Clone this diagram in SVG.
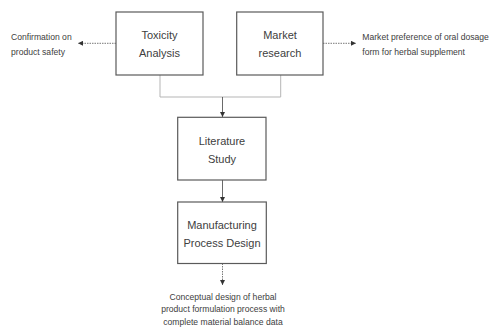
<svg xmlns="http://www.w3.org/2000/svg" width="492" height="327" viewBox="0 0 492 327">
<defs>
<marker id="ah" viewBox="0 0 6 6" refX="6" refY="3" markerWidth="5" markerHeight="5" orient="auto" markerUnits="userSpaceOnUse">
<path d="M0,0 L6,3 L0,6 z" fill="#333"/>
</marker>
</defs>
<style>
.box{fill:#fff;stroke:#5a5a5a;stroke-width:1.2}
.bt{font-family:"Liberation Sans",Arial,sans-serif;font-size:11px;fill:#404040;text-anchor:middle}
.st{font-family:"Liberation Sans",Arial,sans-serif;font-size:8.6px;fill:#404040}
.ln{fill:none;stroke:#b5b5b5;stroke-width:1}
.ar{fill:none;stroke:#444;stroke-width:0.8}
.dt{fill:none;stroke:#555;stroke-width:0.8;stroke-dasharray:1.5,1}
</style>
<rect width="492" height="327" fill="#fff"/>
<g id="connectors">
<path class="ln" d="M160,75 V97 H280.7 V75"/>
<path class="ar" d="M222.5,97 V117" marker-end="url(#ah)"/>
<path class="ar" d="M222.5,180 V202" marker-end="url(#ah)"/>
<path class="dt" d="M222.5,263.5 V285" marker-end="url(#ah)"/>
<path class="dt" d="M116,43.3 H78" marker-end="url(#ah)"/>
<path class="dt" d="M323,43.3 H356" marker-end="url(#ah)"/>
</g>
<g id="toxicity">
<rect class="box" x="116" y="12" width="87" height="63"/>
<text class="bt" x="159.5" y="39">Toxicity</text>
<text class="bt" x="159.5" y="56.5">Analysis</text>
</g>
<g id="market">
<rect class="box" x="236.7" y="12" width="86.3" height="63"/>
<text class="bt" x="280" y="39">Market</text>
<text class="bt" x="280" y="56.5">research</text>
</g>
<g id="literature">
<rect class="box" x="177.7" y="117.3" width="88.3" height="62.7"/>
<text class="bt" x="222" y="145">Literature</text>
<text class="bt" x="222" y="162.5">Study</text>
</g>
<g id="manufacturing">
<rect class="box" x="177.7" y="202" width="88.6" height="61.5"/>
<text class="bt" x="222" y="229">Manufacturing</text>
<text class="bt" x="222" y="246.5">Process Design</text>
</g>
<g id="safety">
<text class="st" x="11" y="40">Confirmation on</text>
<text class="st" x="11" y="54.5">product safety</text>
</g>
<g id="preference">
<text class="st" x="362.3" y="40">Market preference of oral dosage</text>
<text class="st" x="362.3" y="54.5">form for herbal supplement</text>
</g>
<g id="conceptual">
<text class="st" x="223" y="299.5" text-anchor="middle">Conceptual design of herbal</text>
<text class="st" x="223" y="312" text-anchor="middle">product formulation process with</text>
<text class="st" x="223" y="324.5" text-anchor="middle">complete material balance data</text>
</g>
</svg>
